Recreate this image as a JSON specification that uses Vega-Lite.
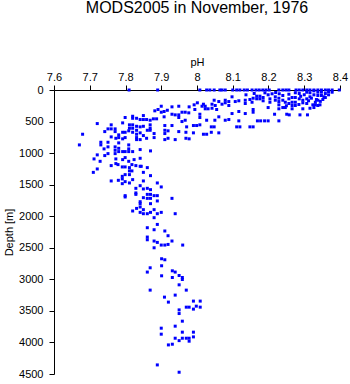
{
  "$schema": "https://vega.github.io/schema/vega-lite/v6.json",
  "width": 286,
  "height": 284,
  "autosize": "none",
  "padding": {"left": 54, "top": 90, "right": 10, "bottom": 10},
  "title": {"text": "MODS2005 in November, 1976", "fontSize": 16, "font": "Liberation Sans", "fontWeight": "normal", "color": "#000000", "anchor": "middle", "offset": 40},
  "config": {"view": {"stroke": null}, "font": "Liberation Sans"},
  "data": {"values": [
    {"pH":7.81,"depth":0},{"pH":7.89,"depth":0},{"pH":8.008,"depth":0},{"pH":8.027,"depth":0},{"pH":8.036,"depth":0},{"pH":8.048,"depth":0},{"pH":8.064,"depth":0},{"pH":8.07,"depth":0},{"pH":8.079,"depth":0},{"pH":8.10,"depth":0},{"pH":8.111,"depth":0},{"pH":8.12,"depth":0},{"pH":8.132,"depth":0},{"pH":8.141,"depth":0},{"pH":8.154,"depth":0},{"pH":8.165,"depth":0},{"pH":8.174,"depth":0},{"pH":8.184,"depth":0},{"pH":8.193,"depth":0},{"pH":8.202,"depth":0},{"pH":8.229,"depth":0},{"pH":8.24,"depth":0},{"pH":8.249,"depth":0},{"pH":8.257,"depth":0},{"pH":8.277,"depth":0},{"pH":8.286,"depth":0},{"pH":8.296,"depth":0},{"pH":8.307,"depth":0},{"pH":8.316,"depth":0},{"pH":8.327,"depth":0},{"pH":8.338,"depth":0},{"pH":8.348,"depth":0},{"pH":8.359,"depth":0},{"pH":8.368,"depth":0},{"pH":8.378,"depth":0},{"pH":8.398,"depth":0},
    {"pH":7.950,"depth":2939},{"pH":7.959,"depth":2971},{"pH":7.959,"depth":3003},{"pH":7.901,"depth":2674},{"pH":7.910,"depth":2690},{"pH":7.901,"depth":2785},{"pH":7.869,"depth":2817},{"pH":7.861,"depth":2885},{"pH":7.931,"depth":2865},{"pH":7.939,"depth":2885},{"pH":7.901,"depth":2944},{"pH":7.931,"depth":2971},{"pH":7.950,"depth":3087},{"pH":7.869,"depth":3171},{"pH":7.970,"depth":3171},{"pH":7.909,"depth":3282},{"pH":7.939,"depth":3250},{"pH":7.920,"depth":3361},{"pH":7.990,"depth":3345},{"pH":8.009,"depth":3345},{"pH":7.970,"depth":3441},{"pH":7.978,"depth":3441},{"pH":7.998,"depth":3425},{"pH":8.009,"depth":3441},{"pH":7.990,"depth":3472},{"pH":7.950,"depth":3484},{"pH":7.950,"depth":3542},{"pH":7.959,"depth":3663},{"pH":7.939,"depth":3742},{"pH":7.900,"depth":3774},{"pH":7.959,"depth":3837},{"pH":7.990,"depth":3837},{"pH":7.900,"depth":3869},{"pH":7.939,"depth":3933},{"pH":7.959,"depth":3933},{"pH":7.970,"depth":3933},{"pH":7.978,"depth":3933},{"pH":7.990,"depth":3912},{"pH":7.950,"depth":3971},{"pH":7.978,"depth":3980},{"pH":7.931,"depth":4028},{"pH":7.920,"depth":4039},{"pH":7.889,"depth":4356},{"pH":7.950,"depth":4472},
    {"pH":7.729,"depth":1130},{"pH":7.760,"depth":1198},{"pH":7.773,"depth":1166},{"pH":7.779,"depth":1182},{"pH":7.791,"depth":1219},{"pH":7.799,"depth":1219},{"pH":7.809,"depth":1130},{"pH":7.824,"depth":1103},{"pH":7.818,"depth":1182},{"pH":7.829,"depth":1198},{"pH":7.841,"depth":1209},{"pH":7.844,"depth":1209},{"pH":7.861,"depth":1230},{"pH":7.721,"depth":1251},{"pH":7.811,"depth":1230},{"pH":7.811,"depth":1282},{"pH":7.818,"depth":1282},{"pH":7.710,"depth":1305},{"pH":7.799,"depth":1341},{"pH":7.811,"depth":1341},{"pH":7.850,"depth":1305},{"pH":7.870,"depth":1357},{"pH":7.791,"depth":1368},{"pH":7.791,"depth":1409},{"pH":7.760,"depth":1441},{"pH":7.780,"depth":1431},{"pH":7.791,"depth":1484},{"pH":7.799,"depth":1452},{"pH":7.811,"depth":1473},{"pH":7.820,"depth":1420},{"pH":7.850,"depth":1441},{"pH":7.889,"depth":1473},{"pH":7.841,"depth":1516},{"pH":7.900,"depth":1536},{"pH":7.829,"depth":1558},{"pH":7.850,"depth":1568},{"pH":7.861,"depth":1558},{"pH":7.870,"depth":1579},{"pH":7.829,"depth":1631},{"pH":7.829,"depth":1654},{"pH":7.799,"depth":1674},{"pH":7.799,"depth":1695},{"pH":7.861,"depth":1654},{"pH":7.870,"depth":1654},{"pH":7.880,"depth":1674},{"pH":7.889,"depth":1674},{"pH":7.850,"depth":1706},{"pH":7.861,"depth":1717},{"pH":7.870,"depth":1717},{"pH":7.930,"depth":1717},{"pH":7.841,"depth":1770},{"pH":7.841,"depth":1801},{"pH":7.870,"depth":1801},{"pH":7.889,"depth":1758},{"pH":7.841,"depth":1854},{"pH":7.831,"depth":1876},{"pH":7.850,"depth":1896},{"pH":7.880,"depth":1896},{"pH":7.820,"depth":1917},{"pH":7.841,"depth":1939},{"pH":7.850,"depth":1960},{"pH":7.861,"depth":1960},{"pH":7.870,"depth":1939},{"pH":7.889,"depth":1960},{"pH":7.900,"depth":1939},{"pH":7.939,"depth":1960},{"pH":7.880,"depth":2023},{"pH":7.889,"depth":2130},{"pH":7.861,"depth":2182},{"pH":7.880,"depth":2214},{"pH":7.910,"depth":2234},{"pH":7.919,"depth":2309},{"pH":7.861,"depth":2330},{"pH":7.861,"depth":2373},{"pH":7.880,"depth":2393},{"pH":7.889,"depth":2415},{"pH":7.930,"depth":2393},{"pH":7.900,"depth":2457},{"pH":7.910,"depth":2457},{"pH":7.919,"depth":2447},{"pH":7.960,"depth":2457},{"pH":7.880,"depth":2500},
    {"pH":7.900,"depth":257},{"pH":7.882,"depth":330},{"pH":7.891,"depth":309},{"pH":7.900,"depth":352},{"pH":7.799,"depth":436},{"pH":7.820,"depth":416},{"pH":7.820,"depth":448},{"pH":7.831,"depth":448},{"pH":7.850,"depth":405},{"pH":7.841,"depth":468},{"pH":7.850,"depth":468},{"pH":7.859,"depth":468},{"pH":7.869,"depth":479},{"pH":7.878,"depth":457},{"pH":7.887,"depth":457},{"pH":7.792,"depth":521},{"pH":7.811,"depth":552},{"pH":7.811,"depth":606},{"pH":7.820,"depth":552},{"pH":7.820,"depth":606},{"pH":7.831,"depth":575},{"pH":7.841,"depth":584},{"pH":7.850,"depth":575},{"pH":7.869,"depth":552},{"pH":7.869,"depth":606},{"pH":7.721,"depth":532},{"pH":7.760,"depth":552},{"pH":7.751,"depth":616},{"pH":7.760,"depth":616},{"pH":7.771,"depth":616},{"pH":7.771,"depth":659},{"pH":7.742,"depth":659},{"pH":7.781,"depth":711},{"pH":7.781,"depth":754},{"pH":7.792,"depth":670},{"pH":7.799,"depth":670},{"pH":7.809,"depth":647},{"pH":7.820,"depth":670},{"pH":7.831,"depth":638},{"pH":7.831,"depth":701},{"pH":7.841,"depth":679},{"pH":7.861,"depth":638},{"pH":7.869,"depth":638},{"pH":7.880,"depth":690},{"pH":7.880,"depth":754},{"pH":7.680,"depth":701},{"pH":7.760,"depth":743},{"pH":7.773,"depth":765},{"pH":7.792,"depth":774},{"pH":7.799,"depth":754},{"pH":7.831,"depth":754},{"pH":7.831,"depth":786},{"pH":7.841,"depth":786},{"pH":7.850,"depth":722},{"pH":7.859,"depth":765},{"pH":7.731,"depth":828},{"pH":7.731,"depth":870},{"pH":7.751,"depth":828},{"pH":7.751,"depth":901},{"pH":7.671,"depth":870},{"pH":7.781,"depth":838},{"pH":7.809,"depth":870},{"pH":7.740,"depth":933},{"pH":7.771,"depth":901},{"pH":7.771,"depth":955},{"pH":7.781,"depth":924},{"pH":7.781,"depth":976},{"pH":7.771,"depth":1008},{"pH":7.792,"depth":976},{"pH":7.799,"depth":976},{"pH":7.809,"depth":933},{"pH":7.809,"depth":976},{"pH":7.820,"depth":976},{"pH":7.841,"depth":944},{"pH":7.870,"depth":965},{"pH":7.721,"depth":1028},{"pH":7.742,"depth":1039},{"pH":7.751,"depth":1008},{"pH":7.712,"depth":1092},{"pH":7.773,"depth":1092},{"pH":7.792,"depth":1103},{"pH":7.799,"depth":1071},{"pH":7.841,"depth":1082},
    {"pH":8.157,"depth":130},{"pH":8.148,"depth":151},{"pH":8.154,"depth":194},{"pH":8.137,"depth":76},{"pH":8.135,"depth":162},{"pH":8.135,"depth":214},{"pH":8.117,"depth":171},{"pH":8.107,"depth":183},{"pH":8.098,"depth":108},{"pH":8.079,"depth":162},{"pH":8.079,"depth":203},{"pH":8.089,"depth":183},{"pH":8.089,"depth":246},{"pH":8.061,"depth":183},{"pH":8.070,"depth":225},{"pH":8.048,"depth":162},{"pH":8.042,"depth":225},{"pH":8.042,"depth":289},{"pH":8.051,"depth":246},{"pH":8.023,"depth":257},{"pH":8.023,"depth":298},{"pH":8.031,"depth":298},{"pH":8.014,"depth":257},{"pH":8.018,"depth":225},{"pH":8.001,"depth":203},{"pH":7.992,"depth":235},{"pH":7.978,"depth":267},{"pH":7.949,"depth":257},{"pH":7.930,"depth":267},{"pH":8.157,"depth":309},{"pH":8.157,"depth":352},{"pH":8.117,"depth":341},{"pH":8.135,"depth":373},{"pH":8.098,"depth":373},{"pH":8.055,"depth":309},{"pH":7.994,"depth":309},{"pH":7.908,"depth":341},{"pH":7.917,"depth":321},{"pH":7.908,"depth":425},{"pH":7.930,"depth":384},{"pH":7.939,"depth":394},{"pH":7.949,"depth":394},{"pH":7.949,"depth":436},{"pH":7.958,"depth":352},{"pH":7.967,"depth":352},{"pH":7.977,"depth":362},{"pH":8.008,"depth":384},{"pH":8.008,"depth":436},{"pH":8.027,"depth":479},{"pH":8.050,"depth":479},{"pH":8.061,"depth":425},{"pH":8.079,"depth":479},{"pH":8.089,"depth":468},{"pH":8.117,"depth":489},{"pH":7.958,"depth":500},{"pH":7.967,"depth":479},{"pH":7.910,"depth":563},{"pH":7.930,"depth":563},{"pH":7.971,"depth":584},{"pH":7.990,"depth":563},{"pH":7.999,"depth":563},{"pH":8.008,"depth":552},{"pH":8.040,"depth":584},{"pH":8.048,"depth":584},{"pH":8.111,"depth":584},{"pH":8.120,"depth":584},{"pH":8.148,"depth":584},{"pH":8.157,"depth":584},{"pH":7.910,"depth":638},{"pH":7.919,"depth":647},{"pH":7.910,"depth":690},{"pH":7.949,"depth":659},{"pH":7.969,"depth":670},{"pH":7.990,"depth":679},{"pH":8.018,"depth":701},{"pH":8.027,"depth":701},{"pH":8.040,"depth":670},{"pH":8.061,"depth":679},{"pH":7.910,"depth":786},{"pH":7.919,"depth":765},{"pH":7.939,"depth":786},{"pH":7.969,"depth":765},{"pH":7.978,"depth":774},
    {"pH":8.167,"depth":98},{"pH":8.167,"depth":140},{"pH":8.176,"depth":98},{"pH":8.176,"depth":140},{"pH":8.185,"depth":119},{"pH":8.185,"depth":171},{"pH":8.199,"depth":76},{"pH":8.204,"depth":140},{"pH":8.204,"depth":194},{"pH":8.219,"depth":108},{"pH":8.219,"depth":162},{"pH":8.229,"depth":130},{"pH":8.229,"depth":183},{"pH":8.229,"depth":235},{"pH":8.229,"depth":298},{"pH":8.240,"depth":87},{"pH":8.240,"depth":162},{"pH":8.240,"depth":278},{"pH":8.247,"depth":194},{"pH":8.247,"depth":278},{"pH":8.257,"depth":67},{"pH":8.257,"depth":140},{"pH":8.257,"depth":214},{"pH":8.266,"depth":119},{"pH":8.266,"depth":194},{"pH":8.266,"depth":246},{"pH":8.266,"depth":298},{"pH":8.275,"depth":44},{"pH":8.275,"depth":119},{"pH":8.275,"depth":194},{"pH":8.275,"depth":246},{"pH":8.286,"depth":56},{"pH":8.286,"depth":140},{"pH":8.296,"depth":162},{"pH":8.296,"depth":203},{"pH":8.296,"depth":298},{"pH":8.307,"depth":35},{"pH":8.307,"depth":140},{"pH":8.307,"depth":214},{"pH":8.316,"depth":44},{"pH":8.316,"depth":108},{"pH":8.327,"depth":13},{"pH":8.327,"depth":76},{"pH":8.331,"depth":194},{"pH":8.331,"depth":235},{"pH":8.338,"depth":35},{"pH":8.338,"depth":87},{"pH":8.338,"depth":162},{"pH":8.338,"depth":246},{"pH":8.348,"depth":35},{"pH":8.348,"depth":87},{"pH":8.359,"depth":56},{"pH":8.359,"depth":119},{"pH":8.368,"depth":24},{"pH":8.368,"depth":76},{"pH":8.378,"depth":35},{"pH":8.355,"depth":108},{"pH":8.199,"depth":278},{"pH":8.217,"depth":384},{"pH":8.251,"depth":384},{"pH":8.258,"depth":394},{"pH":8.288,"depth":394},{"pH":8.309,"depth":394},{"pH":8.316,"depth":289},{"pH":8.327,"depth":278},{"pH":8.169,"depth":489},{"pH":8.178,"depth":489},{"pH":8.189,"depth":489},{"pH":8.199,"depth":489},{"pH":8.229,"depth":489},
    {"pH":8.334,"depth":151},{"pH":8.324,"depth":235},{"pH":8.344,"depth":235},{"pH":8.345,"depth":180},{"pH":8.352,"depth":150},{"pH":8.312,"depth":170},{"pH":8.285,"depth":230},{"pH":8.250,"depth":250},{"pH":8.210,"depth":60},{"pH":8.220,"depth":40},{"pH":8.190,"depth":45},{"pH":8.230,"depth":60},{"pH":8.160,"depth":55},{"pH":8.290,"depth":100},{"pH":8.300,"depth":75},{"pH":8.320,"depth":130}
  ]},
  "mark": {"type": "square", "size": 9, "color": "#0000ff", "opacity": 1, "filled": true},
  "encoding": {
    "x": {"field": "pH", "type": "quantitative",
      "scale": {"domain": [7.6, 8.4], "nice": false, "zero": false},
      "axis": {"orient": "top", "title": "pH", "values": [7.6,7.7,7.8,7.9,8.0,8.1,8.2,8.3,8.4], "format": ".1~f", "grid": false,
        "domainColor": "#000000", "tickColor": "#000000", "tickSize": 5, "labelColor": "#000000", "labelFontSize": 11, "labelFont": "Liberation Sans", "labelPadding": 3,
        "titleFontSize": 11, "titleFontWeight": "normal", "titleFont": "Liberation Sans", "titleColor": "#000000", "titlePadding": 4, "labelFlush": false}},
    "y": {"field": "depth", "type": "quantitative",
      "scale": {"domain": [0, 4500], "reverse": true, "nice": false},
      "axis": {"title": "Depth [m]", "values": [0,500,1000,1500,2000,2500,3000,3500,4000,4500], "format": "d", "grid": false,
        "domainColor": "#000000", "tickColor": "#000000", "tickSize": 5, "labelColor": "#000000", "labelFontSize": 11, "labelFont": "Liberation Sans", "labelPadding": 6,
        "titleFontSize": 11, "titleFontWeight": "normal", "titleFont": "Liberation Sans", "titleColor": "#000000", "titlePadding": 4, "labelFlush": false}}
  }
}
